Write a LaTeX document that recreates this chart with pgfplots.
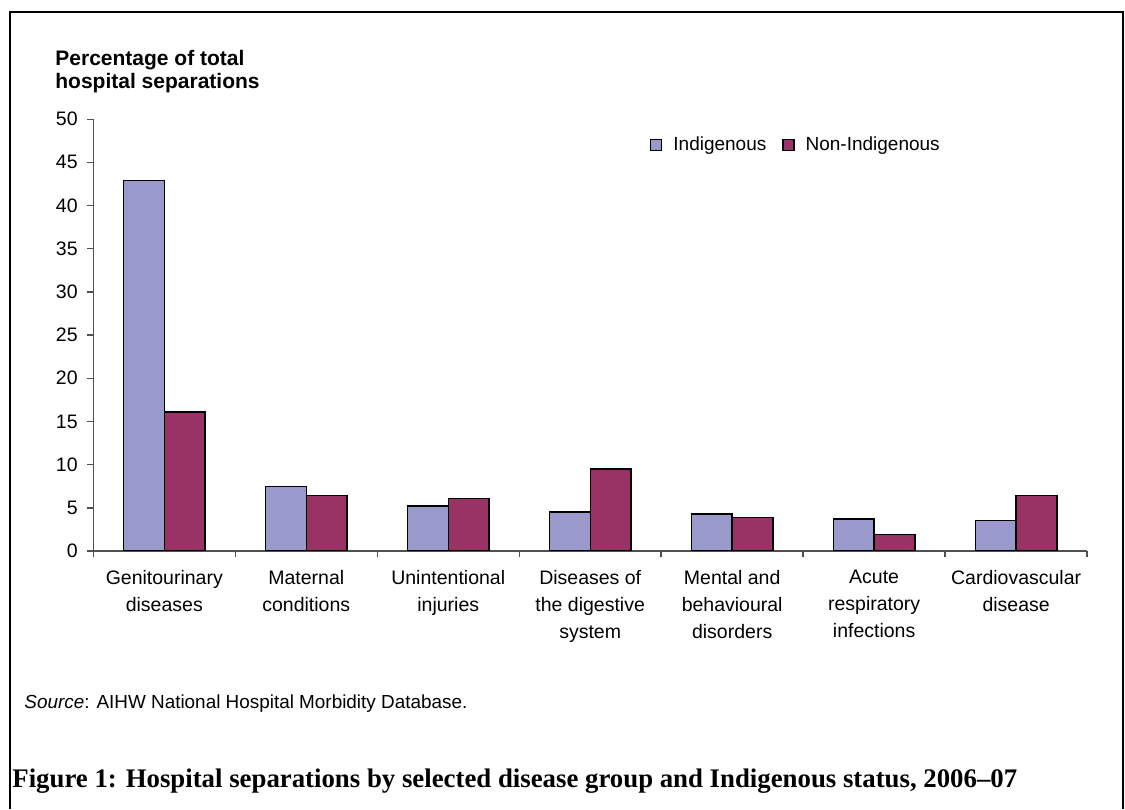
\documentclass[border=0pt]{standalone}
\usepackage{fontspec}
\setmainfont{Liberation Sans}
\newfontfamily\capfont{Liberation Serif}
\usepackage{pgfplots}
\pgfplotsset{compat=1.18}
\definecolor{indig}{RGB}{153,153,204}
\definecolor{nonindig}{RGB}{153,51,102}
\definecolor{axisgray}{RGB}{80,80,80}
\begin{document}
\begin{tikzpicture}
\path[use as bounding box] (0,0) rectangle (562.5pt,404.5pt);
\draw[line width=1pt] (4.75pt,0) -- (4.75pt,398.25pt) -- (561.25pt,398.25pt) -- (561.25pt,0);
\node[anchor=base west, inner sep=0pt, font=\bfseries\fontsize{10.5}{11.5}\selectfont] at (27.5pt,371.5pt) {Percentage of total};
\node[anchor=base west, inner sep=0pt, font=\bfseries\fontsize{10.5}{11.5}\selectfont] at (27.5pt,360pt) {hospital separations};
\begin{axis}[
 at={(46.65pt,129pt)}, anchor=south west,
 scale only axis, width=496.9pt, height=215.9pt,
 xmin=-0.5, xmax=6.5, ymin=0, ymax=50,
 axis x line*=bottom, axis y line*=left,
 axis line style={axisgray, line width=0.7pt, -},
 ybar=0pt, bar width=20.35pt,
 xtick={0,...,6},
 xticklabels={Genitourinary\\diseases, Maternal\\conditions, Unintentional\\injuries, Diseases of\\the digestive\\system, Mental and\\behavioural\\disorders, Acute\\respiratory\\infections, Cardiovascular\\disease},
 major x tick style={draw=none},
 minor xtick={-0.5,0.5,...,6.5},
 minor x tick style={axisgray, line width=0.7pt},
 ytick={0,5,...,50},
 /pgf/number format/assume math mode=true,
 tick align=outside, major tick length=3pt, minor tick length=3pt,
 ytick style={axisgray, line width=0.7pt},
 tick label style={font=\fontsize{9.75}{13.5}\selectfont, text=black},
 xticklabel style={align=center, anchor=north, inner sep=0pt, yshift=-6.5pt},
 yticklabel style={anchor=east, inner sep=0pt, xshift=-4.65pt},
 legend style={at={(0.56,0.9405)}, anchor=west, draw=none, fill=none, inner sep=0pt,
   legend columns=2, font=\fontsize{9.5}{11}\selectfont, nodes={inner sep=0pt},
   /tikz/every odd column/.append style={column sep=5.5pt},
   /tikz/every even column/.append style={column sep=8pt}},
]
\addplot[fill=indig, draw=black, line width=0.7pt,
  legend image code/.code={\draw[fill=indig,draw=black,line width=0.6pt] (0pt,-2.75pt) rectangle (5.5pt,2.75pt);}]
  coordinates {(0,42.9) (1,7.5) (2,5.2) (3,4.5) (4,4.3) (5,3.7) (6,3.5)};
\addlegendentry{Indigenous}
\addplot[fill=nonindig, draw=black, line width=0.7pt,
  legend image code/.code={\draw[fill=nonindig,draw=black,line width=0.6pt] (0pt,-2.75pt) rectangle (5.5pt,2.75pt);}]
  coordinates {(0,16.1) (1,6.4) (2,6.1) (3,9.5) (4,3.9) (5,1.9) (6,6.4)};
\addlegendentry{Non-Indigenous}
\end{axis}
\node[anchor=base west, inner sep=0pt, font=\fontsize{9.45}{11}\selectfont] at (12pt,50pt) {\textit{Source}: AIHW National Hospital Morbidity Database.};
\node[anchor=base west, inner sep=0pt, font=\capfont\bfseries\fontsize{13.4}{15}\selectfont] at (6pt,11pt) {Figure 1: Hospital separations by selected disease group and Indigenous status, 2006–07};
\end{tikzpicture}
\end{document}
